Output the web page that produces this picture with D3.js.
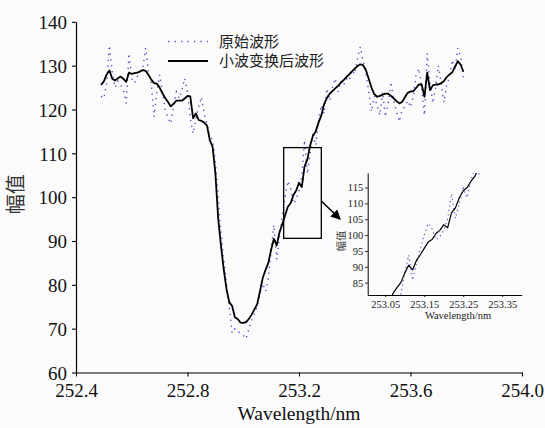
<!DOCTYPE html>
<html>
<head>
<meta charset="utf-8">
<script src="https://cdn.jsdelivr.net/npm/d3@7"></script>
<style>
  body { margin: 0; background: #fbfbfb; }
  svg { display: block; }
  .serif text, text.serif { font-family: "Liberation Serif", "Times New Roman", serif; }
</style>
</head>
<body>
<svg id="chart" width="545" height="428"></svg>
<script>
// Spectral samples (nm) and amplitudes
const wavelength = [
  252.49,252.50,252.51,252.52,252.53,252.54,252.55,252.56,252.57,252.58,
  252.59,252.60,252.61,252.62,252.63,252.64,252.65,252.66,252.67,252.68,
  252.69,252.70,252.71,252.72,252.73,252.74,252.75,252.76,252.77,252.78,
  252.79,252.80,252.81,252.82,252.83,252.84,252.85,252.86,252.87,252.88,
  252.89,252.90,252.91,252.92,252.93,252.94,252.95,252.96,252.97,252.98,
  252.99,253.00,253.01,253.02,253.03,253.04,253.05,253.06,253.07,253.08,
  253.09,253.10,253.11,253.12,253.13,253.14,253.15,253.16,253.17,253.18,
  253.19,253.20,253.21,253.22,253.23,253.24,253.25,253.26,253.27,253.28,
  253.29,253.30,253.31,253.32,253.33,253.34,253.35,253.36,253.37,253.38,
  253.39,253.40,253.41,253.42,253.43,253.44,253.45,253.46,253.47,253.48,
  253.49,253.50,253.51,253.52,253.53,253.54,253.55,253.56,253.57,253.58,
  253.59,253.60,253.61,253.62,253.63,253.64,253.65,253.66,253.67,253.68,
  253.69,253.70,253.71,253.72,253.73,253.74,253.75,253.76,253.77,253.78,
  253.79
];

// Raw measured waveform
const original = [
  123.0,122.5,126.0,134.6,128.5,125.0,126.5,125.5,124.5,121.4,
  132.8,127.0,126.0,127.5,128.5,129.5,134.0,128.5,126.0,118.3,
  124.0,127.9,124.0,120.0,118.0,116.8,120.5,124.0,122.5,124.5,
  127.1,124.0,118.0,114.5,118.0,120.5,122.9,119.0,116.8,114.0,
  113.0,108.0,100.0, 92.0, 86.0, 80.0, 75.0, 69.0, 70.0, 69.5,
   68.9, 68.5, 67.7, 69.8, 71.9, 73.5, 75.0, 78.0, 80.3, 78.5,
   81.5, 88.0, 93.7, 85.8, 91.0, 95.8,100.0,103.7,102.0, 98.5,
   99.5,101.5,105.0,113.0,105.3,110.0,114.8,111.8,117.5,121.0,
  119.0,124.8,122.0,125.0,127.1,124.0,126.5,125.5,127.0,126.5,
  129.0,128.0,131.7,134.3,131.0,128.5,124.0,119.5,123.0,121.0,
  118.7,124.0,118.3,121.5,126.3,122.0,119.5,117.2,120.0,120.6,
  122.0,120.5,122.9,127.9,129.4,125.0,118.7,132.8,126.0,121.4,
  125.0,130.0,126.0,121.6,125.6,127.5,131.3,129.0,134.0,132.0,
  127.1
];

// Waveform after wavelet denoising
const denoised = [
  125.6,126.4,128.0,128.9,127.0,126.6,127.1,127.5,127.0,126.3,
  128.4,128.1,128.3,128.4,128.7,129.0,128.8,127.9,126.8,126.0,
  125.9,125.0,123.7,122.6,121.7,120.7,121.3,122.0,122.0,122.0,
  122.5,123.1,123.0,118.0,119.1,117.6,117.4,117.0,116.3,113.0,
  111.5,105.5, 95.2, 89.0, 83.5, 79.0, 76.0, 75.2, 72.6, 72.2,
   71.4, 71.3, 71.5, 72.2, 73.2, 74.4, 75.6, 78.5, 81.6, 83.4,
   85.0, 88.0, 90.5, 89.0, 92.0, 93.8, 95.8, 97.8, 98.6,100.5,
  101.5,103.3,102.3,107.0,108.6,111.8,114.0,115.0,117.0,118.6,
  121.2,122.6,123.6,124.2,124.8,125.4,126.1,126.7,127.4,128.0,
  128.7,129.3,129.9,130.3,130.1,129.0,127.0,125.0,123.5,122.9,
  123.1,123.4,123.6,123.6,123.1,122.5,121.9,121.4,121.7,122.8,
  123.8,124.1,124.2,124.9,125.7,125.7,122.9,128.4,124.4,125.5,
  125.7,125.7,126.0,126.5,127.4,128.0,128.5,129.8,131.0,130.2,
  128.6
];

const xTicks = [252.4, 252.8, 253.2, 253.6, 254.0];
const yTicks = [60, 70, 80, 90, 100, 110, 120, 130, 140];
const insetXTicks = [253.05, 253.15, 253.25, 253.35];
const insetYTicks = [85, 90, 95, 100, 105, 110, 115];
const legendLabels = ["原始波形", "小波变换后波形"];
// Region of the spectrum enlarged in the inset (nm, amplitude)
const zoomWave = [253.145, 253.28];
const zoomAmp = [90.6, 111.3];

const cjk = "'Noto Sans CJK SC','Noto Sans CJK JP',sans-serif";
const rawColor = "#4d4dc8";

const pts = wavelength.map((w, i) => ({ w, raw: original[i], den: denoised[i] }));

const svg = d3.select("#chart");

// ---------- main plot ----------
const x = d3.scaleLinear().domain([252.4, 254.0]).range([76, 522]);
const y = d3.scaleLinear().domain([60, 140]).range([372.5, 21.8]);

const gx = svg.append("g").attr("class", "serif")
  .attr("transform", `translate(0,${y(60)})`)
  .call(d3.axisBottom(x).tickValues(xTicks).tickFormat(d3.format(".1f"))
    .tickSize(4).tickSizeOuter(0).tickPadding(7));
const gy = svg.append("g").attr("class", "serif")
  .attr("transform", `translate(${x(252.4)},0)`)
  .call(d3.axisLeft(y).tickValues(yTicks).tickFormat(d3.format("d"))
    .tickSize(4).tickSizeOuter(0).tickPadding(5));

[gx, gy].forEach(g => {
  g.attr("font-family", null).attr("font-size", 19);
  g.selectAll("path.domain").attr("stroke", "#000").attr("stroke-width", 1.2);
  g.selectAll(".tick line").attr("stroke", "#000").attr("stroke-width", 1.1);
  g.selectAll(".tick text").attr("fill", "#111");
});
gy.selectAll(".tick text").attr("dy", "0.36em");

svg.append("text").attr("class", "serif")
  .attr("x", x(253.2)).attr("y", 420)
  .attr("text-anchor", "middle")
  .attr("font-size", 19.5).attr("fill", "#111")
  .text("Wavelength/nm");

svg.append("text")
  .attr("transform", `translate(23,${y(100) - 3}) rotate(-90)`)
  .attr("text-anchor", "middle")
  .style("font-family", cjk).style("font-size", "20px").attr("fill", "#333")
  .text("幅值");

const lineRaw = d3.line().x(d => x(d.w)).y(d => y(d.raw));
const lineDen = d3.line().x(d => x(d.w)).y(d => y(d.den));

svg.append("path").datum(pts)
  .attr("d", lineRaw).attr("fill", "none")
  .attr("stroke", rawColor).attr("stroke-width", 1.4)
  .attr("stroke-dasharray", "1.3 4.6");

svg.append("path").datum(pts)
  .attr("d", lineDen).attr("fill", "none")
  .attr("stroke", "#000").attr("stroke-width", 1.8)
  .attr("stroke-linejoin", "round");

// legend
const legend = svg.append("g");
legendLabels.forEach((label, i) => {
  const ly = 41.5 + i * 19.5;
  legend.append("line")
    .attr("x1", 168).attr("x2", 208).attr("y1", ly).attr("y2", ly)
    .attr("stroke", i === 0 ? rawColor : "#000")
    .attr("stroke-width", i === 0 ? 1.4 : 1.8)
    .attr("stroke-dasharray", i === 0 ? "1.3 5.2" : null);
  legend.append("text")
    .attr("x", 219).attr("y", ly).attr("dy", "0.36em")
    .style("font-family", cjk).style("font-size", "15px").attr("fill", "#222")
    .text(label);
});

// box marking the enlarged region
svg.append("rect")
  .attr("x", x(zoomWave[0])).attr("y", y(zoomAmp[1]))
  .attr("width", x(zoomWave[1]) - x(zoomWave[0]))
  .attr("height", y(zoomAmp[0]) - y(zoomAmp[1]))
  .attr("fill", "none").attr("stroke", "#000").attr("stroke-width", 1.3);

// arrow pointing to the inset
svg.append("defs").append("marker")
  .attr("id", "arrowhead").attr("viewBox", "0 0 10 10")
  .attr("refX", 8).attr("refY", 5)
  .attr("markerWidth", 10).attr("markerHeight", 10)
  .attr("markerUnits", "userSpaceOnUse")
  .attr("orient", "auto")
  .append("path").attr("d", "M0,0 L10,5 L0,10 Z").attr("fill", "#000");

svg.append("line")
  .attr("x1", x(zoomWave[1])).attr("y1", 201)
  .attr("x2", 339.5).attr("y2", 218.5)
  .attr("stroke", "#000").attr("stroke-width", 1.6)
  .attr("marker-end", "url(#arrowhead)");

// ---------- inset ----------
const ix = d3.scaleLinear().domain([253.005, 253.4]).range([367.7, 521.7]);
const iy = d3.scaleLinear().domain([81.1, 119.6]).range([295, 173]);

svg.append("clipPath").attr("id", "insetClip")
  .append("rect").attr("x", 367.7).attr("y", 173).attr("width", 154).attr("height", 122);

const inset = svg.append("g");
const igx = inset.append("g").attr("class", "serif")
  .attr("transform", `translate(0,${iy(81.1)})`)
  .call(d3.axisBottom(ix).tickValues(insetXTicks).tickFormat(d3.format(".2f"))
    .tickSize(2).tickSizeOuter(0).tickPadding(4));
const igy = inset.append("g").attr("class", "serif")
  .attr("transform", `translate(${ix(253.005)},0)`)
  .call(d3.axisLeft(iy).tickValues(insetYTicks).tickFormat(d3.format("d"))
    .tickSize(2.5).tickSizeOuter(0).tickPadding(2));
[igx, igy].forEach(g => {
  g.attr("font-family", null).attr("font-size", 10.5);
  g.selectAll("path.domain").attr("stroke", "#000").attr("stroke-width", 1);
  g.selectAll(".tick line").attr("stroke", "#000").attr("stroke-width", 0.9);
  g.selectAll(".tick text").attr("fill", "#222");
});

inset.append("text").attr("class", "serif")
  .attr("x", 458).attr("y", 319)
  .attr("text-anchor", "middle")
  .attr("font-size", 10.5).attr("fill", "#222")
  .text("Wavelength/nm");

inset.append("text")
  .attr("transform", `translate(345,241) rotate(-90)`)
  .attr("text-anchor", "middle")
  .style("font-family", cjk).style("font-size", "10.5px").attr("fill", "#444")
  .text("幅值");

const insetPts = pts.filter(d => d.w >= 253.0 && d.w <= 253.4);
const plotArea = inset.append("g").attr("clip-path", "url(#insetClip)");
plotArea.append("path").datum(insetPts)
  .attr("d", d3.line().x(d => ix(d.w)).y(d => iy(d.raw)))
  .attr("fill", "none").attr("stroke", rawColor).attr("stroke-width", 1.2)
  .attr("stroke-dasharray", "1.1 3.4");
plotArea.append("path").datum(insetPts)
  .attr("d", d3.line().x(d => ix(d.w)).y(d => iy(d.den)))
  .attr("fill", "none").attr("stroke", "#000").attr("stroke-width", 1.2)
  .attr("stroke-linejoin", "round");
</script>
</body>
</html>
